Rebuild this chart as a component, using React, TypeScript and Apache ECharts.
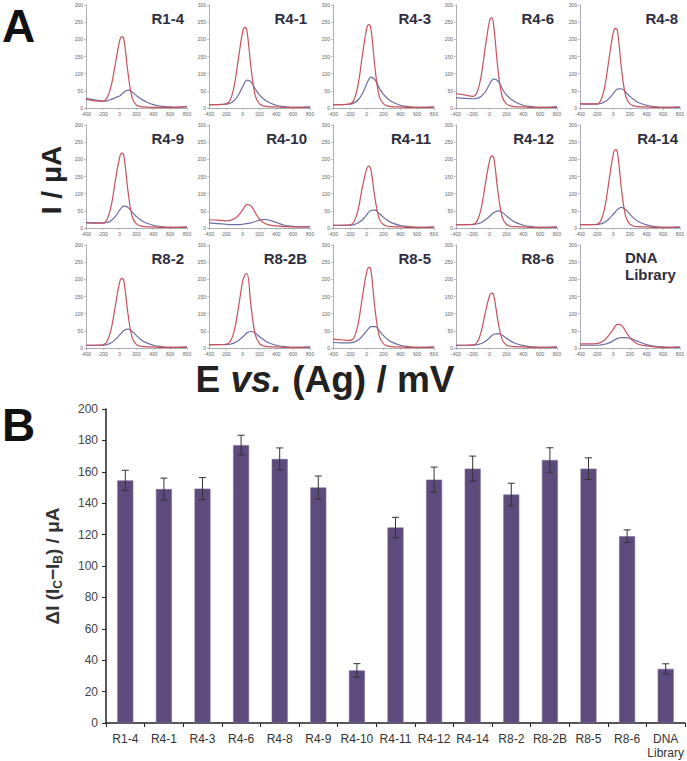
import React, { useEffect, useRef } from "react";
import * as echarts from "echarts";

// Potential grid (mV) shared by every small voltammogram
const potentials = [-400, -300, -200, -150, -100, -50, 0, 25, 50, 100, 150, 200, 250, 300, 400, 500, 600, 700, 800];
const currentTicks = [0, 50, 100, 150, 200, 250, 300];

// Red curves (I / µA)
const redR14 = [25, 21, 20, 30, 65, 130, 196, 208, 200, 100, 28, 8, 4, 3, 2, 2, 2, 3, 5];
const redR41 = [10, 10, 12, 22, 65, 145, 222, 235, 226, 115, 35, 12, 6, 4, 3, 2, 2, 2, 3];
const redR43 = [10, 10, 12, 24, 70, 155, 232, 243, 232, 115, 33, 12, 6, 4, 3, 2, 2, 2, 3];
const redR46 = [42, 38, 34, 45, 95, 180, 255, 263, 235, 110, 32, 12, 6, 4, 3, 2, 2, 2, 4];
const redR48 = [13, 12, 12, 22, 65, 145, 220, 232, 225, 112, 34, 12, 6, 4, 3, 2, 2, 2, 3];
const redR49 = [16, 15, 15, 25, 65, 140, 206, 218, 210, 105, 32, 12, 6, 4, 3, 2, 2, 2, 3];
const redR410 = [24, 23, 21, 22, 27, 37, 53, 62, 68, 64, 44, 26, 15, 10, 6, 4, 3, 3, 4];
const redR411 = [8, 8, 9, 18, 55, 120, 172, 180, 170, 85, 26, 10, 5, 4, 3, 2, 2, 2, 3];
const redR412 = [10, 10, 11, 20, 58, 130, 198, 210, 203, 102, 31, 11, 5, 4, 3, 2, 2, 2, 3];
const redR414 = [10, 10, 11, 21, 62, 140, 215, 228, 220, 110, 33, 11, 5, 4, 3, 2, 2, 2, 3];
const redR82 = [8, 8, 9, 19, 56, 125, 192, 203, 195, 97, 29, 10, 5, 4, 3, 2, 2, 2, 3];
const redR82B = [10, 10, 11, 18, 50, 118, 195, 212, 217, 120, 38, 13, 6, 4, 3, 2, 2, 2, 3];
const redR85 = [26, 24, 22, 30, 72, 150, 222, 235, 227, 112, 34, 12, 6, 4, 3, 2, 2, 2, 3];
const redR86 = [8, 8, 9, 16, 48, 105, 153, 160, 152, 76, 23, 9, 5, 4, 3, 2, 2, 2, 3];
const redDNA = [12, 12, 13, 16, 24, 38, 55, 64, 69, 66, 48, 30, 18, 11, 6, 3, 2, 2, 3];

// Blue curves (I / µA)
const blueR14 = [28, 24, 20, 21, 25, 30, 35, 40, 46, 52, 46, 36, 27, 20, 10, 5, 3, 2, 3];
const blueR41 = [10, 10, 11, 14, 22, 38, 62, 74, 81, 76, 55, 38, 26, 18, 8, 4, 2, 2, 2];
const blueR43 = [10, 10, 11, 15, 24, 42, 70, 83, 90, 82, 58, 40, 27, 18, 8, 4, 2, 2, 2];
const blueR46 = [30, 28, 27, 28, 34, 48, 70, 80, 85, 78, 56, 38, 26, 18, 8, 4, 2, 2, 2];
const blueR48 = [12, 11, 11, 13, 18, 28, 42, 50, 55, 56, 46, 34, 24, 16, 8, 4, 2, 2, 2];
const blueR49 = [15, 14, 14, 16, 22, 34, 52, 60, 64, 60, 46, 33, 23, 16, 8, 4, 2, 2, 2];
const blueR410 = [15, 13, 11, 10, 10, 10, 11, 12, 13, 15, 19, 23, 25, 24, 16, 8, 5, 3, 3];
const blueR411 = [8, 8, 8, 10, 15, 24, 38, 46, 51, 52, 42, 31, 22, 15, 7, 4, 2, 2, 2];
const blueR412 = [10, 10, 10, 12, 16, 24, 34, 40, 45, 50, 45, 35, 25, 17, 8, 4, 2, 2, 2];
const blueR414 = [10, 10, 10, 12, 17, 27, 40, 47, 54, 60, 53, 40, 28, 19, 9, 4, 2, 2, 2];
const blueR82 = [8, 8, 8, 10, 15, 25, 38, 45, 51, 55, 48, 36, 25, 17, 8, 4, 2, 2, 2];
const blueR82B = [10, 10, 10, 11, 15, 22, 32, 38, 44, 48, 43, 33, 24, 16, 8, 4, 2, 2, 2];
const blueR85 = [16, 15, 15, 17, 23, 35, 50, 57, 62, 62, 50, 36, 25, 17, 8, 4, 2, 2, 2];
const blueR86 = [8, 8, 8, 10, 13, 20, 30, 36, 40, 42, 37, 28, 20, 14, 7, 3, 2, 2, 2];
const blueDNA = [8, 8, 8, 9, 11, 15, 21, 25, 28, 30, 30, 28, 24, 19, 10, 5, 3, 2, 2];

// Bar chart
const clones = ["R1-4", "R4-1", "R4-3", "R4-6", "R4-8", "R4-9", "R4-10", "R4-11", "R4-12", "R4-14", "R8-2", "R8-2B", "R8-5", "R8-6", "DNA Library"];
const deltaI = [154.5, 149, 149.3, 177, 168.2, 150, 33.5, 124.5, 155, 162, 145.5, 167.5, 162, 119, 34.5];
const deltaErr = [6.5, 7, 7, 6.3, 7, 7.3, 4.3, 6.5, 8, 8, 7.2, 7.8, 6.9, 4, 3.2];
const barTicks = [0, 20, 40, 60, 80, 100, 120, 140, 160, 180, 200];

const redCurves = [redR14, redR41, redR43, redR46, redR48, redR49, redR410, redR411, redR412, redR414, redR82, redR82B, redR85, redR86, redDNA];
const blueCurves = [blueR14, blueR41, blueR43, blueR46, blueR48, blueR49, blueR410, blueR411, blueR412, blueR414, blueR82, blueR82B, blueR85, blueR86, blueDNA];

const FONT = "'Liberation Sans', Arial, sans-serif";

export default function App() {
  const ref = useRef<HTMLDivElement>(null);
  useEffect(() => {
    if (!ref.current) return;
    const chart = echarts.init(ref.current, null, { renderer: "svg" });

    const colLeft = [86, 209, 333, 456, 580];
    const rowTop = [5, 125, 245];
    const pw = 101;
    const ph = 103;

    const grids: any[] = [];
    const xAxes: any[] = [];
    const yAxes: any[] = [];
    const series: any[] = [];
    const graphics: any[] = [];

    for (let i = 0; i < 15; i++) {
      const r = Math.floor(i / 5);
      const c = i % 5;
      grids.push({ left: colLeft[c], top: rowTop[r], width: pw, height: ph });
      xAxes.push({
        type: "value", gridIndex: i, min: -400, max: 800, interval: 200,
        axisLine: { show: true, onZero: false, lineStyle: { color: "#999", width: 0.8 } },
        axisTick: { show: true, length: 2, lineStyle: { color: "#999", width: 0.6 } },
        axisLabel: { fontSize: 5, color: "#666", margin: 3, fontFamily: FONT },
        splitLine: { show: false },
      });
      yAxes.push({
        type: "value", gridIndex: i, min: currentTicks[0], max: currentTicks[currentTicks.length - 1], interval: 50,
        axisLine: { show: true, onZero: false, lineStyle: { color: "#999", width: 0.8 } },
        axisTick: { show: true, length: 2, lineStyle: { color: "#999", width: 0.6 } },
        axisLabel: { fontSize: 5, color: "#666", margin: 3, fontFamily: FONT },
        splitLine: { show: false },
      });
      series.push({
        type: "line", xAxisIndex: i, yAxisIndex: i, smooth: 0.4, symbol: "none",
        lineStyle: { color: "#6b6da6", width: 1.2 },
        data: potentials.map((x, k) => [x, blueCurves[i][k]]),
      });
      series.push({
        type: "line", xAxisIndex: i, yAxisIndex: i, smooth: 0.4, symbol: "none",
        lineStyle: { color: "#c8525c", width: 1.2 },
        data: potentials.map((x, k) => [x, redCurves[i][k]]),
      });
      if (i < 14) {
        graphics.push({
          type: "text", right: 687 - (colLeft[c] + pw - 3), top: rowTop[r] + 6,
          style: { text: clones[i], font: `bold 15px ${FONT}`, fill: "#2e2e40" },
        });
      } else {
        graphics.push({
          type: "text", left: 625, top: rowTop[r] + 4,
          style: { text: "DNA\nLibrary", font: `bold 15px ${FONT}`, fill: "#2e2e40", lineHeight: 17 },
        });
      }
    }

    // Bar chart grid
    grids.push({ left: 106, top: 409, right: 1, bottom: 38 });
    xAxes.push({
      type: "category", gridIndex: 15, data: clones.map((c) => c.replace(" ", "\n")),
      axisLine: { show: true, lineStyle: { color: "#222", width: 1.5 } },
      axisTick: { show: true, length: 4, lineStyle: { color: "#222" } },
      axisLabel: { fontSize: 12, color: "#333", margin: 9, fontFamily: FONT, interval: 0, lineHeight: 14 },
    });
    yAxes.push({
      type: "value", gridIndex: 15, min: barTicks[0], max: barTicks[barTicks.length - 1], interval: 20,
      axisLine: { show: true, lineStyle: { color: "#222", width: 1.5 } },
      axisTick: { show: true, length: 4, lineStyle: { color: "#222" } },
      axisLabel: { fontSize: 12, color: "#444", margin: 8, fontFamily: FONT },
      splitLine: { show: false },
      name: "{m|ΔI (I}{s|C}{m|−I}{s|B}{m|) / μA}",
      nameLocation: "middle",
      nameGap: 42,
      nameRotate: 90,
      nameTextStyle: {
        rich: {
          m: { fontSize: 19, fontWeight: "bold", color: "#333", fontFamily: FONT, lineHeight: 24 },
          s: { fontSize: 12, fontWeight: "bold", color: "#333", fontFamily: FONT, lineHeight: 24, verticalAlign: "bottom", padding: [7, 0, 0, 0] },
        },
      },
    });
    series.push({
      type: "bar", xAxisIndex: 15, yAxisIndex: 15, barWidth: 16,
      itemStyle: { color: "#5e4b7e", borderColor: "#7b6c98", borderWidth: 0.6 },
      data: deltaI,
    });
    series.push({
      type: "custom", xAxisIndex: 15, yAxisIndex: 15,
      data: deltaI.map((v, k) => [k, v - deltaErr[k], v + deltaErr[k]]),
      renderItem: (params: any, api: any) => {
        const x = api.value(0);
        const lo = api.coord([x, api.value(1)]);
        const hi = api.coord([x, api.value(2)]);
        const hw = 3.5;
        const st = { stroke: "#333", lineWidth: 1 };
        return {
          type: "group",
          children: [
            { type: "line", shape: { x1: lo[0], y1: lo[1], x2: hi[0], y2: hi[1] }, style: st },
            { type: "line", shape: { x1: hi[0] - hw, y1: hi[1], x2: hi[0] + hw, y2: hi[1] }, style: st },
            { type: "line", shape: { x1: lo[0] - hw, y1: lo[1], x2: lo[0] + hw, y2: lo[1] }, style: st },
          ],
        };
      },
      z: 10,
    });

    graphics.push(
      { type: "text", left: 2, top: 3, style: { text: "A", font: `bold 46px ${FONT}`, fill: "#111" } },
      { type: "text", left: 2, top: 402, style: { text: "B", font: `bold 46px ${FONT}`, fill: "#111" } },
      {
        type: "text", x: 51, y: 180, rotation: Math.PI / 2,
        style: { text: "I / μA", font: `bold 28px ${FONT}`, fill: "#222", align: "center", verticalAlign: "middle" },
      },
      {
        type: "text", x: 325, y: 379,
        style: {
          text: "{a|E }{b|vs.}{a| (Ag) / mV}",
          align: "center", verticalAlign: "middle",
          rich: {
            a: { fontSize: 37, fontWeight: "bold", fontFamily: FONT, fill: "#222" },
            b: { fontSize: 37, fontWeight: "bold", fontStyle: "italic", fontFamily: FONT, fill: "#222" },
          },
        },
      }
    );

    chart.setOption({
      animation: false,
      backgroundColor: "#fff",
      textStyle: { fontFamily: FONT },
      grid: grids,
      xAxis: xAxes,
      yAxis: yAxes,
      series,
      graphic: graphics,
    });
    return () => chart.dispose();
  }, []);
  return <div ref={ref} style={{ position: "fixed", left: 0, top: 0, width: 687, height: 761 }} />;
}
